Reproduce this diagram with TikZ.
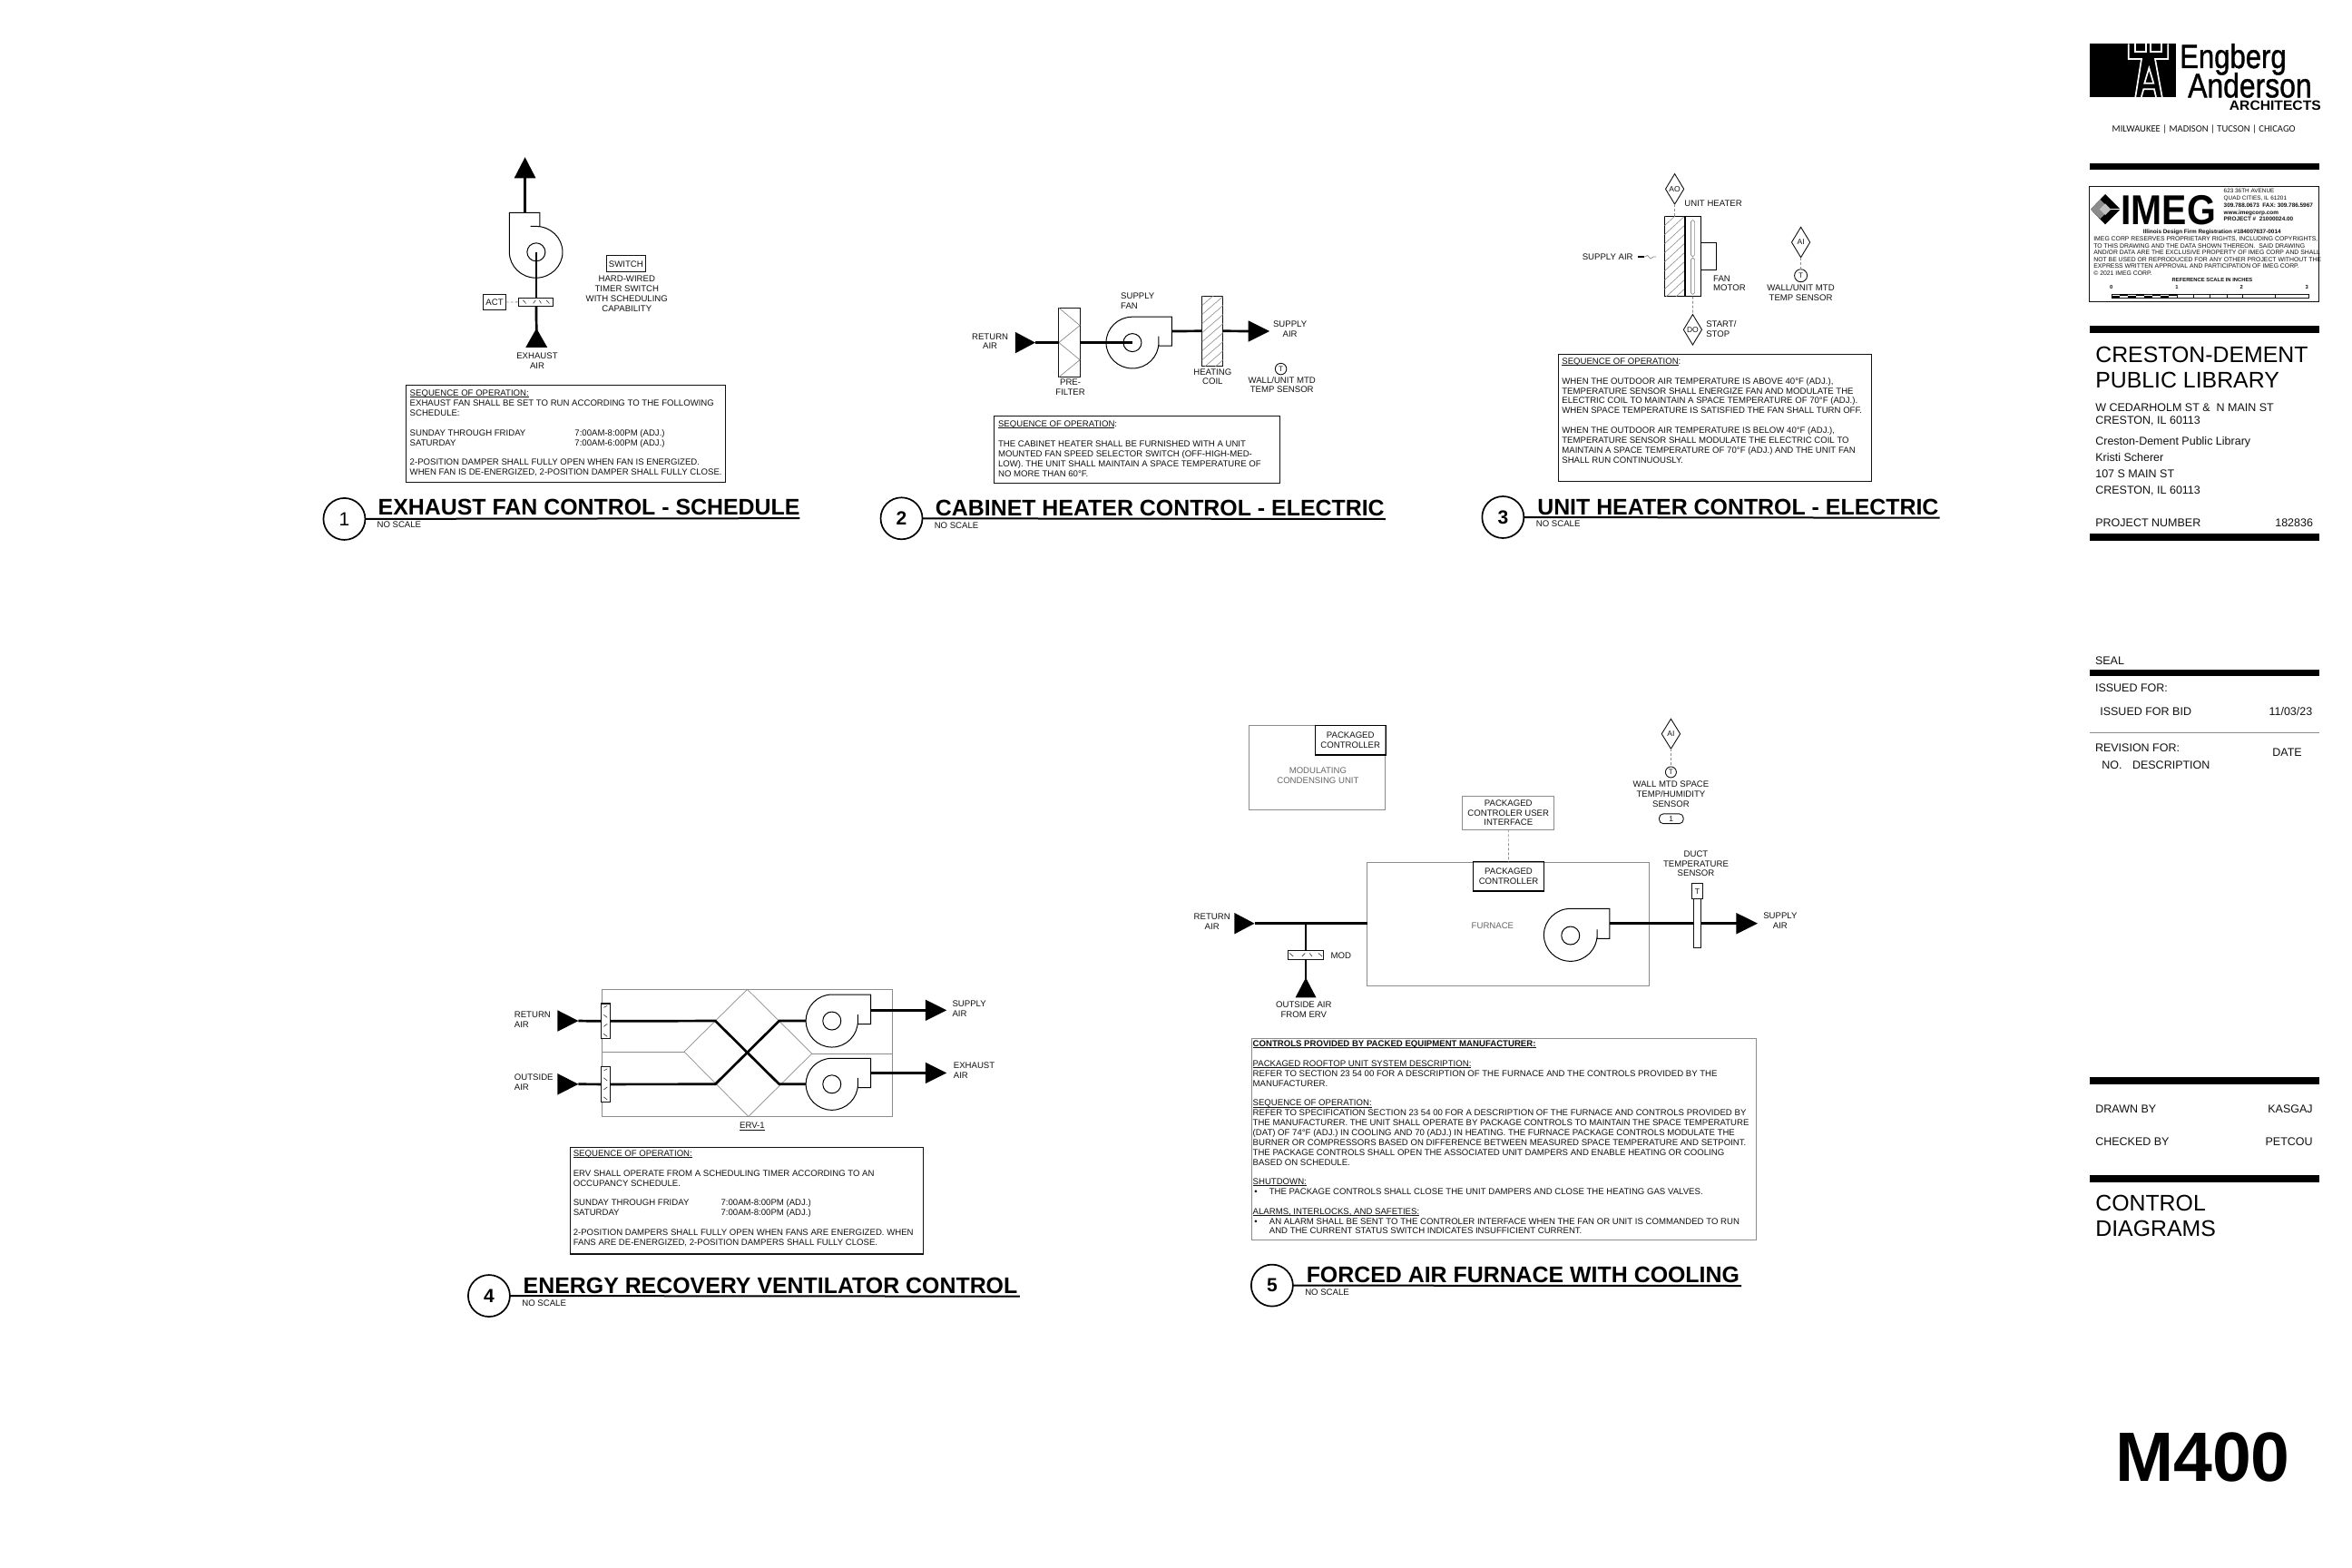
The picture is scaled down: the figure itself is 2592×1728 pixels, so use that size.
\documentclass[tikz,border=0pt]{standalone}
\usepackage{fontspec}
\usepackage{graphicx}
\setmainfont{Liberation Sans}
\newfontfamily\calib{Carlito}
\newfontfamily\logof[FakeBold=1.2]{Liberation Sans}
\usetikzlibrary{shapes.geometric}
\definecolor{ink}{HTML}{111111}
\definecolor{soft}{HTML}{8C8C8C}
\definecolor{softtext}{HTML}{666666}
\newcommand{\fs}[2]{\fontsize{#1}{#2}\selectfont}
\newcommand{\ul}[1]{\setbox0=\hbox{#1}\rlap{\rule[-1.2pt]{\wd0}{.6pt}}\box0 }
\newcommand{\tri}[5]{\fill[black,shift={(#1,#2)},x=1pt,y=1pt,rotate=#3] (0,0) -- (-#4,#5) -- (-#4,-#5) -- cycle;}
% right-discharge fan: cx cy rx ry W low stub
\newcommand{\fanR}[7]{\begin{scope}[shift={(#1,#2)},x=\fx pt,y=1pt]
\draw[fanline] (#3,#7) -- (#3,-#6) -- (#5,-#6) -- (#5,#4) -- (0,#4) arc (90:360:#3 and #4);
\end{scope}}
\newcommand{\hticks}[2]{\begin{scope}[shift={(#1,#2)}]
\draw[tick] (-13,-2) -- (-10,1.5); \draw[tick] (-3,1.5) -- (-0.5,-2); \draw[tick] (3,-2) -- (5,1.5); \draw[tick] (13,1.5) -- (10,-2);
\end{scope}}
\newcommand{\vticks}[2]{\begin{scope}[shift={(#1,#2)}]
\draw[tick] (-1.5,-15) -- (1.5,-17); \draw[tick] (-1.5,-7) -- (1.5,-4); \draw[tick] (-1.5,6) -- (1.5,3); \draw[tick] (-1.5,14) -- (1.5,17);
\end{scope}}
\newcommand{\hatchbox}[4]{\begin{scope}\clip (#1,#2) rectangle (#3,#4);
\foreach \d in {0,10,...,130} {\draw[hatch] (#1,#2+\d) -- ++(30,-30);}\end{scope}}
\tikzset{
 x=1pt,y=-1pt,
 firstline/.style={execute at begin node={\rule{0pt}{#1}},yshift=#1},
 txt/.style={inner sep=0pt,outer sep=0pt,text=ink,font=\fs{9.6}{10.85},align=left,anchor=north west,firstline=9pt},
 ctr/.style={inner sep=0pt,outer sep=0pt,text=ink,font=\fs{9.6}{10.85},align=center,anchor=north,firstline=9pt},
 rgt/.style={inner sep=0pt,outer sep=0pt,text=ink,font=\fs{12.5}{14},anchor=base east},
 tb/.style={inner sep=0pt,outer sep=0pt,text=ink,font=\fs{12.5}{14},align=left,anchor=north west,firstline=13pt},
 big/.style={inner sep=0pt,outer sep=0pt,text=black,font=\fs{24.85}{27.65},align=left,anchor=north west,firstline=20pt},
 ttl/.style={inner sep=0pt,outer sep=0pt,text=black,font=\bfseries\fs{24.9}{26},anchor=base west},
 num/.style={circle,draw=black,line width=1.7pt,minimum size=46pt,inner sep=0pt,outer sep=0pt,font=\bfseries\fs{21}{22}},
 rule/.style={draw=black,line width=2pt},
 duct/.style={draw=black,line width=2.7pt},
 duct2/.style={draw=black,line width=2pt},
 fanline/.style={draw=black,line width=1pt},
 box/.style={draw=ink,line width=1pt,inner sep=0pt,outer sep=0pt,align=center,font=\fs{9.6}{10.85},text=ink},
 hbox/.style={draw=black,line width=1.3pt,inner sep=0pt,outer sep=0pt,align=center,font=\fs{9.6}{10.85},text=ink},
 gbox/.style={draw=soft,line width=.8pt,inner sep=0pt,outer sep=0pt,align=center,font=\fs{9.6}{10.85},text=ink},
 soo/.style={draw=ink,line width=1pt,inner sep=0pt,outer sep=0pt},
 ctl/.style={draw=soft,line width=.9pt,densely dashed},
 tick/.style={draw=ink,line width=.5pt},
 hatch/.style={draw=soft,line width=.6pt},
 thin gray/.style={draw=soft,line width=.7pt},
 dmp/.style={draw=ink,line width=.9pt,fill=white,inner sep=0pt,outer sep=0pt},
 tsens/.style={circle,draw=ink,line width=.9pt,inner sep=0pt,outer sep=0pt,minimum size=12.5pt,font=\fs{8}{9},text=ink},
 dia/.style={diamond,draw=ink,line width=.9pt,inner sep=0pt,outer sep=0pt,minimum width=20.2pt,minimum height=33.4pt,font=\fs{8.5}{9},text=ink},
 bar/.style={fill=black},
}
\begin{document}
\begin{tikzpicture}
\useasboundingbox (0,0) rectangle (2592,1728);
\fill[white] (0,0) rectangle (2592,1728);

%% ---------- 1 EXHAUST FAN ----------
\begin{scope}[x=1.1187pt,y=-1.008pt,xshift=-41.96pt,yshift=1.1pt]
\def\fx{1.1187}
\coordinate (f1) at (565.7,276.7);
\coordinate (top1) at (554.7,233.3);
\coordinate (tip1b) at (554.7,190);
\coordinate (in1) at (566,362);
\draw[duct] (top1) -- (tip1b);
\tri{554.7}{173}{90}{23}{11.9}
\begin{scope}[shift={(f1)},x=\fx pt,y=1pt]
\draw[fanline] (3.6,28.4) -- (3.6,43.4) -- (-26.4,43.4) -- (-26.4,0) arc (180:450:26.2 and 28.4) -- (-5.7,28.4);
\end{scope}
\draw[fanline] (f1) circle[radius=10pt];
\node[dmp,minimum width=38pt,minimum height=9.3pt] (d1) at (565.7,331.3) {};
\hticks{565.7}{331.3}
\draw[draw=ink,line width=1.5pt] (d1.south west) -- (d1.south east);
\draw[duct] (f1) -- (d1.north);
\draw[duct] (d1.south) -- (in1);
\tri{566}{360}{90}{21}{11.9}
\node[box,minimum width=25.4pt,minimum height=17.6pt] (act1) at (524.7,331.5) {ACT};
\draw[ctl] (act1) -- (d1);
\node[box,minimum width=43.6pt,minimum height=18pt] (sw1) at (654.2,289.7) {SWITCH};
\node[ctr] (sw1t) at (655,311.8) {HARD-WIRED\\TIMER SWITCH\\WITH SCHEDULING\\CAPABILITY};
\node[ctr] (ex1) at (566.7,395.8) {EXHAUST\\AIR};
\node[soo,minimum width=352.5pt,minimum height=107.5pt] (s1) at (594.8,475.4) {};
\node[txt] (s1t) at (441.3,436.8) {\ul{SEQUENCE OF OPERATION:}\\EXHAUST FAN SHALL BE SET TO RUN ACCORDING TO THE FOLLOWING\\SCHEDULE:\\[10.85pt]\makebox[181.7pt][l]{SUNDAY THROUGH FRIDAY}7:00AM-8:00PM (ADJ.)\\\makebox[181.7pt][l]{SATURDAY}7:00AM-6:00PM (ADJ.)\\[10.85pt]2-POSITION DAMPER SHALL FULLY OPEN WHEN FAN IS ENERGIZED.\\WHEN FAN IS DE-ENERGIZED, 2-POSITION DAMPER SHALL FULLY CLOSE.};
\node[num] (c1) at (376.7,568.5) {\fontseries{m}\selectfont 1};
\coordinate (u1) at (825.3,567.7);
\draw[rule] (c1) -- (u1);
\node[ttl] (t1) at (410,564.3) {EXHAUST FAN CONTROL - SCHEDULE};
\node[txt] (n1) at (409,578) {NO SCALE};
\end{scope}

%% ---------- 2 CABINET HEATER ----------
\begin{scope}[x=1.158pt,yshift=-3.3pt,xshift=-152.9pt]
\def\fx{1.158}
\node[ctr] (ra2) at (1074.3,373.1) {RETURN\\AIR};
\tri{1117.3}{374.3}{0}{22}{11.7}
\coordinate (a2) at (1117.3,374.3);
\coordinate (f2) at (1209.7,374.3);
\node[draw=ink,line width=1pt,inner sep=0pt,outer sep=0pt,minimum width=23.2pt,minimum height=76.3pt] (pf2) at (1149.7,374.2) {};
\draw[thin gray] (1139.7,336) -- (1159.7,355.4) -- (1139.7,374.2) -- (1159.7,393.3) -- (1139.7,412.3);
\draw[duct] (a2) -- (pf2.west);
\draw[duct] (pf2.east) -- (f2);
\fanR{1209.7}{374.3}{25}{28.4}{37.6}{3.4}{7}
\draw[fanline] (f2) circle[radius=10pt];
\node[draw=ink,line width=1pt,inner sep=0pt,outer sep=0pt,minimum width=23.2pt,minimum height=76.4pt] (hc2) at (1286,361.5) {};
\hatchbox{1276}{323.3}{1296}{399.7}
\coordinate (o2) at (1247.3,361.7);
\coordinate (a2b) at (1325,361.7);
\draw[duct] (o2) -- (hc2.west);
\draw[duct] (hc2.east) -- (a2b);
\tri{1340.3}{361.7}{0}{23.5}{11.7}
\node[ctr] (sa2) at (1359.7,359.8) {SUPPLY\\AIR};
\node[txt] (sf2) at (1198.7,328.8) {SUPPLY\\FAN};
\node[ctr] (pr2) at (1150.7,423.8) {PRE-\\FILTER};
\node[ctr] (hl2) at (1286,412.1) {HEATING\\COIL};
\node[tsens] (ts2) at (1351,403.3) {T};
\node[ctr] (wl2) at (1352,420.8) {WALL/UNIT MTD\\TEMP SENSOR};
\node[soo,minimum width=315.7pt,minimum height=74pt] (s2) at (1214,491.7) {};
\node[txt] (s2t) at (1082,469.8) {\ul{SEQUENCE OF OPERATION}:\\[10.85pt]THE CABINET HEATER SHALL BE FURNISHED WITH A UNIT\\MOUNTED FAN SPEED SELECTOR SWITCH (OFF-HIGH-MED-\\LOW). THE UNIT SHALL MAINTAIN A SPACE TEMPERATURE OF\\NO MORE THAN 60°F.};
\node[num] (c2) at (990,568) {2};
\coordinate (u2) at (1450.5,568.7);
\draw[rule] (c2) -- (u2);
\node[ttl] (t2) at (1022.3,565.3) {CABINET HEATER CONTROL - ELECTRIC};
\node[txt] (n2) at (1021.3,578.8) {NO SCALE};
\end{scope}

%% ---------- 3 UNIT HEATER ----------
\begin{scope}[x=1.0833pt,yshift=-1pt,xshift=-137.6pt]
\def\fx{1.0833}
\node[dia] (ao3) at (1830.7,207.3) {AO};
\node[txt] (uh3) at (1840.7,226.4) {UNIT HEATER};
\node[draw=black,line width=1.4pt,inner sep=0pt,outer sep=0pt,minimum width=22.4pt,minimum height=88pt] (c3) at (1830.7,281.7) {};
\hatchbox{1820.3}{237.7}{1841}{325.7}
\draw[ctl] (ao3.south) -- (c3.north);
\node[draw=black,line width=1.1pt,inner sep=0pt,outer sep=0pt,minimum width=17.7pt,minimum height=88pt] (fb3) at (1849.2,281.7) {};
\draw[thin gray,rounded corners=1.8pt] (1847.2,241.7) rectangle (1851,281.7);
\draw[thin gray,rounded corners=1.8pt] (1847.2,283.3) rectangle (1851,323.3);
\draw[draw=black,line width=1pt] (1857.3,266.7) -- (1873,266.7) -- (1873,296.7) -- (1857.3,296.7);
\node[txt] (sa3) at (1736.7,285.8) {SUPPLY AIR};
\draw[draw=black,line width=1.2pt] (1793.3,282) -- (1800,282);
\draw[thin gray] (1800,282) -- (1803,280.5) -- (1806,284) -- (1809,282) -- (1811.7,282);
\node[txt] (fm3) at (1870,311.4) {FAN\\MOTOR};
\node[dia] (do3) at (1849,362.3) {DO};
\draw[ctl] (fb3.south) -- (do3.north);
\node[txt] (ss3) at (1862.7,361.8) {START/\\STOP};
\node[dia] (ai3) at (1959,266) {AI};
\node[tsens,minimum size=14pt] (ts3) at (1959,302.7) {T};
\draw[ctl] (ai3.south) -- (ts3.north);
\node[ctr] (wl3) at (1959,321.8) {WALL/UNIT MTD\\TEMP SENSOR};
\node[soo,minimum width=345.4pt,minimum height=140pt] (s3) at (1871.8,459) {};
\node[txt] (s3t) at (1716,402.8) {\ul{SEQUENCE OF OPERATION}:\\[10.85pt]WHEN THE OUTDOOR AIR TEMPERATURE IS ABOVE 40°F (ADJ.),\\TEMPERATURE SENSOR SHALL ENERGIZE FAN AND MODULATE THE\\ELECTRIC COIL TO MAINTAIN A SPACE TEMPERATURE OF 70°F (ADJ.).\\WHEN SPACE TEMPERATURE IS SATISFIED THE FAN SHALL TURN OFF.\\[10.85pt]WHEN THE OUTDOOR AIR TEMPERATURE IS BELOW 40°F (ADJ.),\\TEMPERATURE SENSOR SHALL MODULATE THE ELECTRIC COIL TO\\MAINTAIN A SPACE TEMPERATURE OF 70°F (ADJ.) AND THE UNIT FAN\\SHALL RUN CONTINUOUSLY.};
\node[num] (c3n) at (1656,569) {3};
\coordinate (u3) at (2100.3,569.7);
\draw[rule] (c3n) -- (u3);
\node[ttl] (t3) at (1691,566.3) {UNIT HEATER CONTROL - ELECTRIC};
\node[txt] (n3) at (1689.7,579.8) {NO SCALE};
\end{scope}

%% ---------- 4 ERV ----------
\begin{scope}[x=1.2722pt,y=-1.001pt,xshift=-137pt,yshift=3.1pt]
\def\fx{1.2722}
\node[gbox,minimum width=319.8pt,minimum height=140.2pt] (erv) at (755,1162.3) {};
\draw[thin gray] (755,1092.3) -- (811,1163) -- (756,1232.3) -- (700.3,1161) -- cycle;
\draw[thin gray] (629.3,1161) -- (700.3,1161);
\draw[thin gray] (811,1163) -- (880.7,1163);
\tri{608.7}{1127}{0}{22.9}{11.7}
\tri{608.7}{1196.7}{0}{22.9}{11.7}
\coordinate (a41) at (608.7,1127);
\coordinate (a42) at (608.7,1196.7);
\node[dmp,draw=ink,line width=1.1pt,minimum width=9.8pt,minimum height=38.7pt] (d41) at (632.2,1127.3) {};
\node[dmp,draw=ink,line width=1.1pt,minimum width=9.8pt,minimum height=38.3pt] (d42) at (632.2,1196.8) {};
\vticks{632.2}{1127.3}
\vticks{632.2}{1196.8}
\coordinate (b41) at (727.3,1127);
\coordinate (b42) at (782.7,1196.7);
\coordinate (b43) at (727.3,1196.7);
\coordinate (b44) at (782.7,1127);
\coordinate (e41) at (805.8,1127);
\coordinate (e42) at (805.8,1196.7);
\draw[duct] (a41) -- (d41.west);
\draw[duct] (a42) -- (d42.west);
\draw[duct,line join=miter] (d41.east) -- (b41) -- (b42) -- (e42);
\draw[duct,line join=miter] (d42.east) -- (b43) -- (b44) -- (e41);
\fanR{828.3}{1127}{22.5}{29}{33.7}{3.7}{7}
\fanR{828.3}{1196.7}{22.5}{28.5}{33.7}{3.7}{7}
\draw[fanline] (828.3,1127) circle[radius=10pt];
\draw[fanline] (828.3,1196.7) circle[radius=10pt];
\coordinate (o41) at (862,1115.3);
\coordinate (o42) at (862,1184.3);
\coordinate (p41) at (915,1115.3);
\coordinate (p42) at (915,1184.3);
\draw[duct] (o41) -- (p41);
\draw[duct] (o42) -- (p42);
\tri{927.7}{1115.3}{0}{23.4}{11.7}
\tri{927.7}{1184.3}{0}{23.4}{11.7}
\node[txt] (ra4) at (553.3,1125.8) {RETURN\\AIR};
\node[txt] (oa4) at (553.3,1194.8) {OUTSIDE\\AIR};
\node[txt] (sa4) at (932.7,1113.8) {SUPPLY\\AIR};
\node[txt] (ea4) at (933.7,1181.8) {EXHAUST\\AIR};
\node[ctr] (lb4) at (759.3,1245.8) {\ul{ERV-1}};
\node[soo,line width=1.1pt,minimum width=388.6pt,minimum height=117.8pt] (s4) at (754.4,1324.9) {};
\node[txt] (s4t) at (604.3,1278.8) {\ul{SEQUENCE OF OPERATION:}\\[10.85pt]ERV SHALL OPERATE FROM A SCHEDULING TIMER ACCORDING TO AN\\OCCUPANCY SCHEDULE.\\[10.85pt]\makebox[162.8pt][l]{SUNDAY THROUGH FRIDAY}7:00AM-8:00PM (ADJ.)\\\makebox[162.8pt][l]{SATURDAY}7:00AM-8:00PM (ADJ.)\\[10.85pt]2-POSITION DAMPERS SHALL FULLY OPEN WHEN FANS ARE ENERGIZED. WHEN\\FANS ARE DE-ENERGIZED, 2-POSITION DAMPERS SHALL FULLY CLOSE.};
\node[num] (c4) at (531.3,1429.7) {4};
\coordinate (u4) at (991,1430.3);
\draw[rule] (c4) -- (u4);
\node[ttl] (t4) at (561,1426.9) {ENERGY RECOVERY VENTILATOR CONTROL};
\node[txt] (n4) at (560,1440.8) {NO SCALE};
\end{scope}

%% ---------- 5 FURNACE ----------
\begin{scope}[x=1.378pt,y=-.995pt,xshift=-496.1pt,yshift=-4.5pt]
\def\fx{1.378}
\node[gbox,minimum width=150.2pt,minimum height=92.5pt] (mcu) at (1413.5,845.8) {};
\node[hbox,minimum width=78pt,minimum height=32.3pt] (pc51) at (1440,815.5) {PACKAGED\\CONTROLLER};
\node[ctr,text=softtext] (mc5) at (1414,854.8) {MODULATING\\CONDENSING UNIT};
\node[gbox,minimum width=101pt,minimum height=37pt] (pui) at (1566.3,895.8) {PACKAGED\\CONTROLER USER\\INTERFACE};
\node[gbox,minimum width=311pt,minimum height=136pt] (fur) at (1566.2,1018.7) {};
\node[hbox,minimum width=77.7pt,minimum height=32.2pt] (pc52) at (1566.5,966.2) {PACKAGED\\CONTROLLER};
\draw[ctl,line width=.7pt] (pui.south) -- (pc52.north);
\node[ctr,text=softtext] (fu5) at (1553.7,1023.8) {FURNACE};
\fanR{1616}{1031}{21.3}{29}{31.3}{4}{6}
\draw[fanline] (1616,1031.7) circle[radius=10pt];
\tri{1363.3}{1018.3}{0}{22.2}{11.7}
\coordinate (a51) at (1363.3,1018.3);
\coordinate (j5) at (1404.3,1018.3);
\draw[duct] (a51) -- (fur.west |- a51);
\coordinate (o5) at (1647.3,1018.3);
\coordinate (p5) at (1755,1018.3);
\draw[duct] (o5) -- (p5);
\tri{1765.7}{1018.3}{0}{23.6}{11.7}
\node[draw=ink,line width=.9pt,fill=white,inner sep=0pt,outer sep=0pt,minimum width=7.4pt,minimum height=54pt] (st5) at (1717.4,1018.5) {};
\node[box,fill=white,line width=.9pt,minimum width=12.8pt,minimum height=17.6pt,font=\fs{8.5}{9}] (ts5) at (1717.4,982.5) {T};
\node[dmp,minimum width=38.6pt,minimum height=9.8pt] (d5) at (1404.3,1053.2) {};
\hticks{1404.3}{1053.2}
\coordinate (i5) at (1404.3,1082);
\draw[duct2] (j5) -- (d5.north);
\draw[duct2] (d5.south) -- (i5);
\tri{1404.3}{1078.3}{90}{22}{11.5}
\node[ctr] (ra5) at (1329.3,1016.8) {RETURN\\AIR};
\node[ctr] (sa5) at (1783.7,1015.8) {SUPPLY\\AIR};
\node[txt] (mo5) at (1424.3,1056.8) {MOD};
\node[ctr] (oa5) at (1402.7,1113.8) {OUTSIDE AIR\\FROM ERV};
\node[dia,minimum width=20.4pt,minimum height=33pt] (ai5) at (1696.3,808.3) {AI};
\node[tsens,minimum size=12pt] (ts52) at (1696.3,850.7) {T};
\draw[ctl] (ai5.south) -- (ts52.north);
\node[ctr] (wm5) at (1696.3,869.8) {WALL MTD SPACE\\TEMP/HUMIDITY\\SENSOR};
\node[draw=ink,line width=.9pt,rounded corners=4.5pt,inner sep=0pt,outer sep=0pt,minimum width=26.6pt,minimum height=10.8pt,font=\fs{8.5}{9},text=ink] (tg5) at (1696.6,902.3) {1};
\node[ctr] (dt5) at (1716.3,946.8) {DUCT\\TEMPERATURE\\SENSOR};
\end{scope}

\begin{scope}[x=1.1586pt,xshift=-218.2pt,yshift=1.7pt]
\node[gbox,minimum width=556pt,minimum height=222pt] (s5) at (1618.8,1257.3) {};
\node[txt] (s5t) at (1380,1157.8) {\textbf{\ul{CONTROLS PROVIDED BY PACKED EQUIPMENT MANUFACTURER:}}\\[10.85pt]\ul{PACKAGED ROOFTOP UNIT SYSTEM DESCRIPTION:}\\REFER TO SECTION 23 54 00 FOR A DESCRIPTION OF THE FURNACE AND THE CONTROLS PROVIDED BY THE\\MANUFACTURER.\\[10.85pt]\ul{SEQUENCE OF OPERATION:}\\REFER TO SPECIFICATION SECTION 23 54 00 FOR A DESCRIPTION OF THE FURNACE AND CONTROLS PROVIDED BY\\THE MANUFACTURER. THE UNIT SHALL OPERATE BY PACKAGE CONTROLS TO MAINTAIN THE SPACE TEMPERATURE\\(DAT) OF 74°F (ADJ.) IN COOLING AND 70 (ADJ.) IN HEATING. THE FURNACE PACKAGE CONTROLS MODULATE THE\\BURNER OR COMPRESSORS BASED ON DIFFERENCE BETWEEN MEASURED SPACE TEMPERATURE AND SETPOINT.\\THE PACKAGE CONTROLS SHALL OPEN THE ASSOCIATED UNIT DAMPERS AND ENABLE HEATING OR COOLING\\BASED ON SCHEDULE.\\[10.85pt]\ul{SHUTDOWN:}\\\makebox[18.2pt][l]{\,•}THE PACKAGE CONTROLS SHALL CLOSE THE UNIT DAMPERS AND CLOSE THE HEATING GAS VALVES.\\[10.85pt]\ul{ALARMS, INTERLOCKS, AND SAFETIES:}\\\makebox[18.2pt][l]{\,•}AN ALARM SHALL BE SENT TO THE CONTROLER INTERFACE WHEN THE FAN OR UNIT IS COMMANDED TO RUN\\\hspace*{18.2pt}AND THE CURRENT STATUS SWITCH INDICATES INSUFFICIENT CURRENT.};
\node[num] (c5) at (1398.3,1418.3) {5};
\coordinate (u5) at (1844.7,1418.7);
\draw[rule] (c5) -- (u5);
\node[ttl] (t5) at (1431,1415.3) {FORCED AIR FURNACE WITH COOLING};
\node[txt] (n5) at (1429.7,1428.8) {NO SCALE};
\end{scope}

%% ---------- TITLE BLOCK ----------
\fill[black] (2303.3,48.3) rectangle (2398.3,106.9);
\draw[white,line width=1.7pt,line join=miter] (2345.7,48.3) -- (2345.7,65) -- (2360,65) -- (2353.3,106.9);
\draw[white,line width=1.7pt,line join=miter] (2389.3,48.3) -- (2389.3,65) -- (2375,65) -- (2382.7,106.9);
\draw[white,line width=1.7pt,line join=miter] (2353.3,48.3) -- (2353.3,56.7) -- (2365,56.7) -- (2365,48.3);
\draw[white,line width=1.7pt,line join=miter] (2370,48.3) -- (2370,56.7) -- (2381.7,56.7) -- (2381.7,48.3);
\draw[white,line width=1.7pt,line join=miter] (2368.3,75) -- (2363.3,91.7) -- (2373.3,91.7) -- cycle;
\draw[white,line width=1.7pt,line join=miter] (2359.8,106.9) -- (2362.3,98.3) -- (2374,98.3) -- (2376,106.9);
\node[inner sep=0pt,anchor=base west,font=\logof\fs{37}{38},text=black] (eng) at (2402,75) {\scalebox{.84}[1]{Engberg}};
\node[inner sep=0pt,anchor=base west,font=\logof\fs{37.5}{38},text=black] (and) at (2411,107.3) {\scalebox{.85}[1]{Anderson}};
\node[inner sep=0pt,anchor=base west,font=\bfseries\fs{14.9}{16},text=black] (arc) at (2456.7,121.7) {\scalebox{1.05}[1]{ARCHITECTS}};
\node[inner sep=0pt,anchor=base,font=\calib\fs{10.6}{12},text=ink] (cities) at (2428.7,146) {MILWAUKEE | MADISON | TUCSON | CHICAGO};
\fill[bar] (2302.7,179.7) rectangle (2555.7,187);
\node[draw=ink,line width=.9pt,inner sep=0pt,outer sep=0pt,minimum width=253pt,minimum height=127.4pt] (imeg) at (2429.2,269) {};
\fill[black] (2304,230.7) -- (2320,214) -- (2336.7,230.7) -- (2320,247.3) -- cycle;
\fill[soft] (2304,230.7) -- (2314.7,220) -- (2325,230.7) -- (2314.7,241) -- cycle;
\fill[soft!55] (2313.7,230.7) -- (2320,224.4) -- (2326.3,230.7) -- (2320,237) -- cycle;
\draw[white,line width=.7pt] (2326.3,230.7) -- (2336.7,230.7);
\node[inner sep=0pt,anchor=base west,font=\bfseries\fs{46}{47},text=black] (ig) at (2337,247.3) {\scalebox{.89}[1]{IMEG}};
\node[txt,font=\fs{6.4}{7.7}] (addr) at (2450.7,217.5) {623 36TH AVENUE\\QUAD CITIES, IL 61201\\\textbf{309.788.0673\ \ FAX: 309.786.5967}\\\textbf{www.imegcorp.com}\\\textbf{PROJECT \#\ \ 21000024.00}};
\node[ctr,font=\bfseries\fs{6.4}{7.5}] (reg) at (2437.7,258) {Illinois Design Firm Registration \#184007637-0014};
\node[txt,font=\fs{6.85}{7.52}] (legal) at (2307.3,270.1) {IMEG CORP RESERVES PROPRIETARY RIGHTS, INCLUDING COPYRIGHTS,\\TO THIS DRAWING AND THE DATA SHOWN THEREON.\ \ SAID DRAWING\\AND/OR DATA ARE THE EXCLUSIVE PROPERTY OF IMEG CORP AND SHALL\\NOT BE USED OR REPRODUCED FOR ANY OTHER PROJECT WITHOUT THE\\EXPRESS WRITTEN APPROVAL AND PARTICIPATION OF IMEG CORP.\\© 2021 IMEG CORP.};
\node[ctr,font=\bfseries\fs{5.85}{7}] (rf) at (2438,310.4) {REFERENCE SCALE IN INCHES};
\node[ctr,font=\bfseries\fs{5.85}{7}] (s0) at (2326.7,319) {0};
\node[ctr,font=\bfseries\fs{5.85}{7}] (s1l) at (2399,319) {1};
\node[ctr,font=\bfseries\fs{5.85}{7}] (s2l) at (2470.3,319) {2};
\node[ctr,font=\bfseries\fs{5.85}{7}] (s3l) at (2542.3,319) {3};
\draw[draw=ink,line width=.7pt] (2327.3,324.3) rectangle (2544,328.7);
\foreach \t in {2399.3,2417.7,2435.7,2454,2471.7,2507.7} {\draw[draw=ink,line width=.7pt] (\t,324.3) -- (\t,328.7);}
\foreach \k in {0,2,4,6} {\fill[black] (2327.3+\k*9,326.5) rectangle (2336.3+\k*9,328.7); \fill[black] (2336.3+\k*9,324.3) rectangle (2345.3+\k*9,326.5);}

\fill[bar] (2302.7,359.3) rectangle (2555.7,367);
\node[big] (pn) at (2309.3,402.1) {CRESTON-DEMENT\\PUBLIC LIBRARY};
\node[tb] (ad1) at (2309.3,458.2) {W CEDARHOLM ST \& \ N MAIN ST\\CRESTON, IL 60113};
\node[tb,font=\fs{12.5}{18}] (ad2) at (2309.3,494.2) {Creston-Dement Public Library\\Kristi Scherer\\107 S MAIN ST\\CRESTON, IL 60113};
\node[tb] (pj) at (2309.3,580.2) {PROJECT NUMBER};
\node[rgt] (pjn) at (2549,580.2) {182836};
\fill[bar] (2302.7,588.3) rectangle (2555.7,595.7);
\node[tb] (seal) at (2309,732.2) {SEAL};
\fill[bar] (2302.7,738) rectangle (2555.7,745);
\node[tb] (isf) at (2309,762.2) {ISSUED FOR:};
\node[tb] (isb) at (2314.3,788.8) {ISSUED FOR BID};
\node[rgt] (dt) at (2548.3,788.2) {11/03/23};
\draw[thin gray] (2303,807.3) -- (2556,807.3);
\node[tb] (rev) at (2309,828.2) {REVISION FOR:};
\node[tb] (no) at (2316.3,847.2) {NO.};
\node[tb] (dsc) at (2350,847.2) {DESCRIPTION};
\node[tb] (dat) at (2504.3,833.2) {DATE};
\fill[bar] (2302.7,1186.7) rectangle (2555.7,1194.7);
\node[tb] (dby) at (2309.3,1226.8) {DRAWN BY};
\node[rgt] (dbn) at (2548.7,1226.8) {KASGAJ};
\node[tb] (cby) at (2309.3,1262.8) {CHECKED BY};
\node[rgt] (cbn) at (2548.7,1262.8) {PETCOU};
\fill[bar] (2302.7,1294.7) rectangle (2555.7,1302.7);
\node[big,font=\fs{24.85}{28.6}] (cd) at (2309.3,1336.9) {CONTROL\\DIAGRAMS};
\node[inner sep=0pt,anchor=base,font=\bfseries\fs{77}{78},text=black] (sheet) at (2427.5,1632.3) {M400};
\end{tikzpicture}
\end{document}
